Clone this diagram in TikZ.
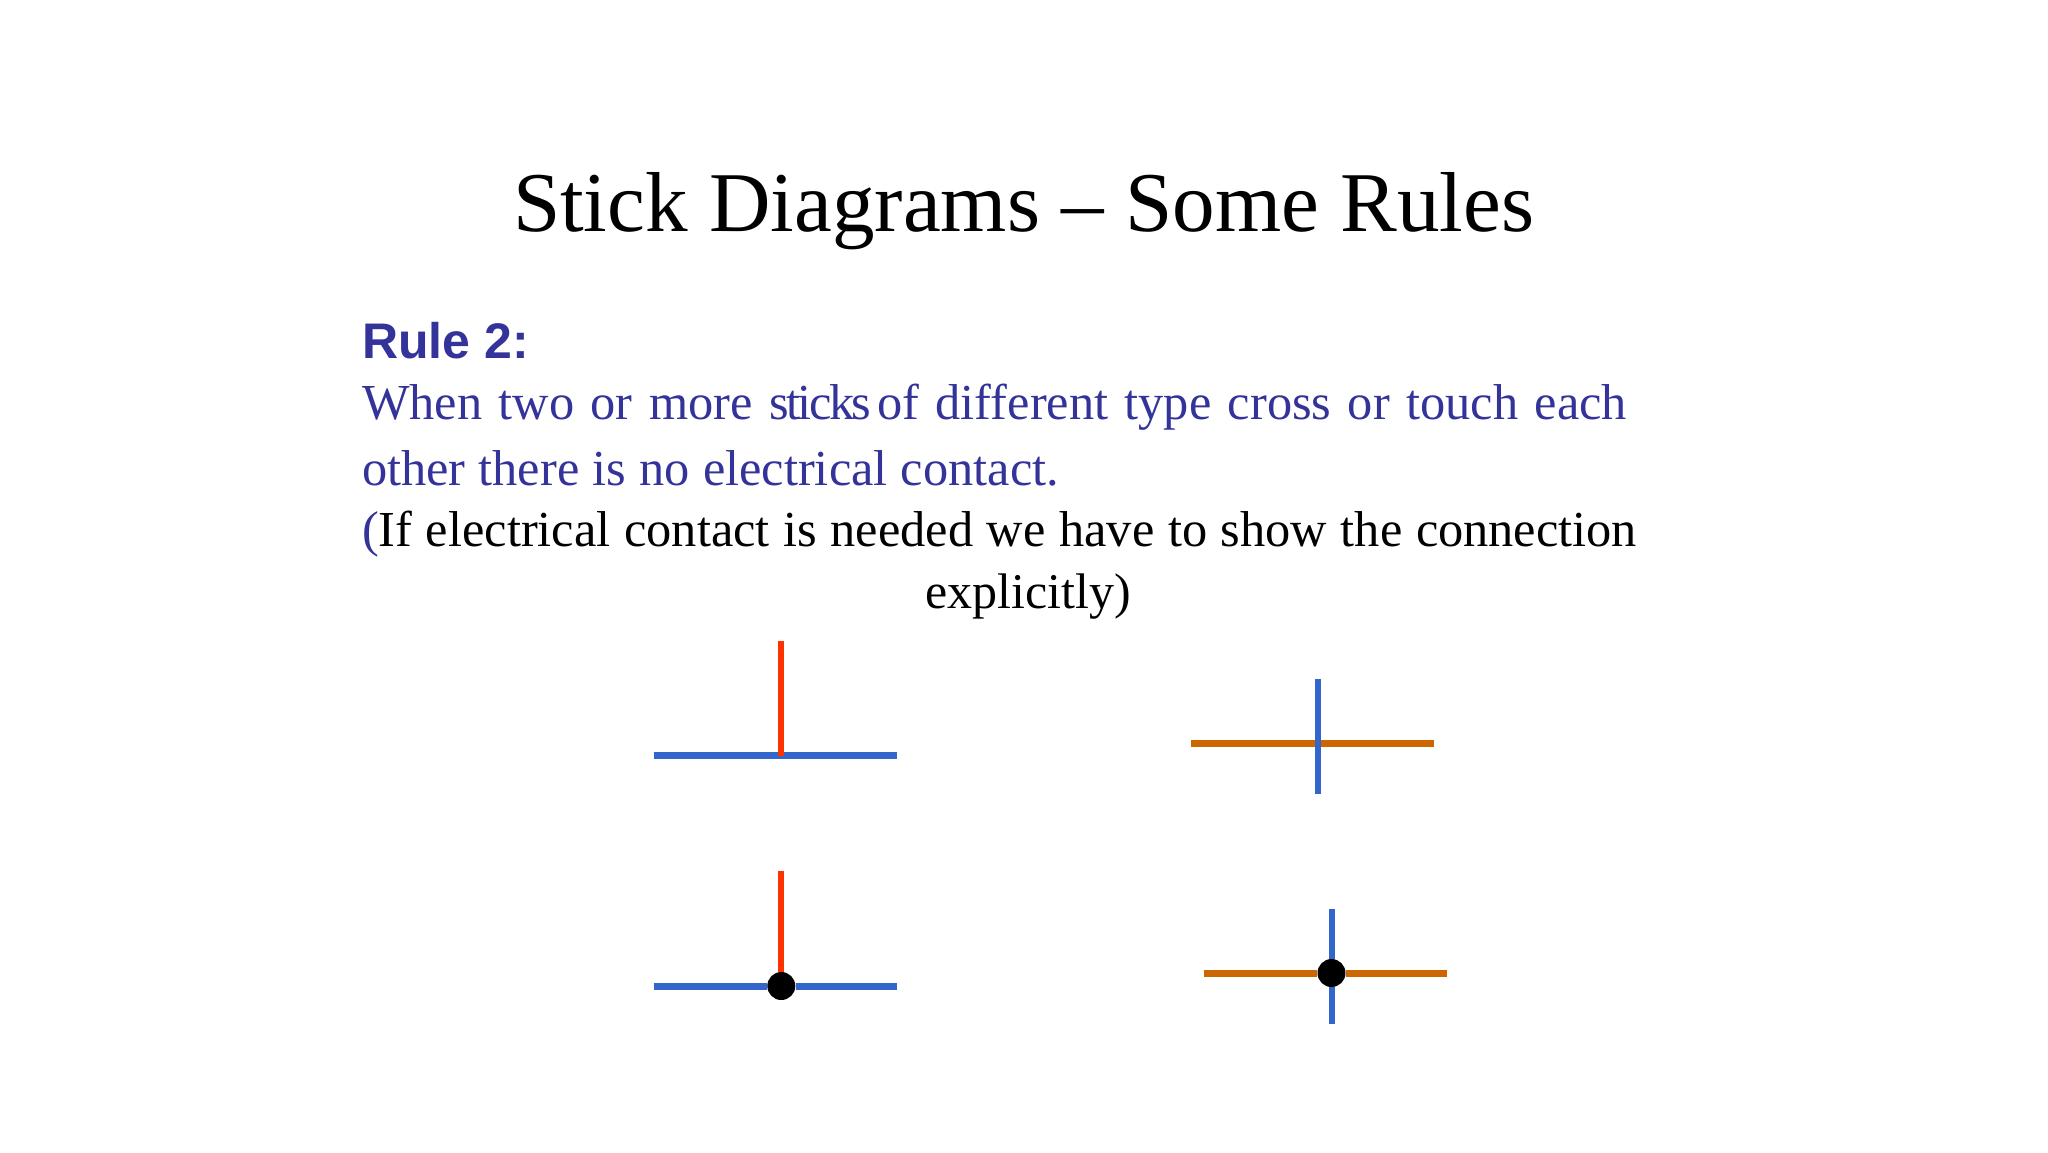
\documentclass[tikz,border=0pt]{standalone}
\usepackage{fontspec}
\setmainfont{Liberation Serif}
\newfontfamily\arialfont{Liberation Sans}
\definecolor{txtblue}{HTML}{333399}
\definecolor{stickblue}{HTML}{3366CC}
\definecolor{stickred}{HTML}{FF3300}
\definecolor{stickorange}{HTML}{CC6600}
\tikzset{
  textline/.style={inner sep=0pt,outer sep=0pt,anchor=base west},
  hstick/.style={line width=7pt,line cap=butt},
  vstick/.style={line width=6pt,line cap=butt},
  contact/.style={circle,fill=black,inner sep=0pt,minimum size=28pt},
}
\begin{document}
\begin{tikzpicture}[x=1pt,y=-1pt]
\fill[white] (0,0) rectangle (2048,1152);
\useasboundingbox (0,0) rectangle (2048,1152);
\node[textline] (title) at (513,231) {\fontsize{85.1}{90}\selectfont Stick Diagrams – Some Rules};
\node[textline,text=txtblue] (rule) at (362,358) {\arialfont\bfseries\fontsize{50}{55}\selectfont Rule 2:};
\node[textline,text=txtblue] (l1) at (362,419) {\fontsize{50.4}{55}\selectfont\hbox to 1265pt{When\hfil two\hfil or\hfil more\hfil {\addfontfeature{LetterSpace=-5}sticks}\hskip 6pt of\hfil different\hfil type\hfil cross\hfil or\hfil touch\hfil each}};
\node[textline,text=txtblue] (l2) at (362,485) {\fontsize{50.4}{55}\selectfont\hbox to 697pt{other\hfil there\hfil is\hfil no\hfil electrical\hfil contact.}};
\node[textline] (l3) at (362,546) {\fontsize{50.4}{55}\selectfont\hbox to 1275pt{\textcolor{txtblue}{(}If\hfil electrical\hfil contact\hfil is\hfil needed\hfil we\hfil have\hfil to\hfil show\hfil the\hfil connection}};
\node[textline,anchor=base] (l4) at (1028,608) {\fontsize{50}{55}\selectfont explicitly)};
% top left
\coordinate (a1) at (653.5,755.7); \coordinate (a2) at (896.5,755.7);
\coordinate (a3) at (781.3,640.7); \coordinate (a4) at (781.3,756);
\draw[hstick,stickblue] (a1) -- (a2);
\draw[vstick,stickred] (a3) -- (a4);
% top right
\coordinate (b1) at (1190.5,743); \coordinate (b2) at (1433.5,743);
\coordinate (b3) at (1318.3,679); \coordinate (b4) at (1318.3,794);
\draw[hstick,stickorange] (b1) -- (b2);
\draw[vstick,stickblue] (b3) -- (b4);
% bottom left
\coordinate (c1) at (653.5,986); \coordinate (c2) at (896.5,986);
\coordinate (c3) at (781.3,870.7);
\node[contact] (cdot) at (781.3,986) {};
\draw[hstick,stickblue] (c1) -- (cdot);
\draw[hstick,stickblue] (cdot) -- (c2);
\draw[vstick,stickred] (c3) -- (cdot);
% bottom right
\coordinate (d1) at (1203.6,973); \coordinate (d2) at (1446.6,973);
\coordinate (d3) at (1331.5,909); \coordinate (d4) at (1331.5,1024);
\node[contact] (ddot) at (1331.5,973) {};
\draw[hstick,stickorange] (d1) -- (ddot);
\draw[hstick,stickorange] (ddot) -- (d2);
\draw[vstick,stickblue] (d3) -- (ddot);
\draw[vstick,stickblue] (ddot) -- (d4);
\end{tikzpicture}
\end{document}
